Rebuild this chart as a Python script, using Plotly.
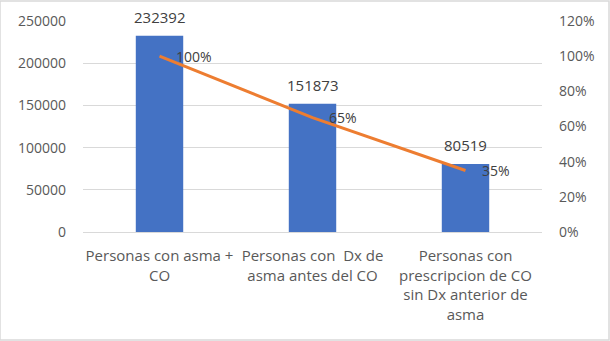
import plotly.graph_objects as go

# Data
categories = [
    "Personas con asma + CO",
    "Personas con  Dx de asma antes del CO",
    "Personas con prescripcion de CO sin Dx anterior de asma",
]
tick_labels = [
    "Personas con asma +<br>CO",
    "Personas con  Dx de<br>asma antes del CO",
    "Personas con<br>prescripcion de CO<br>sin Dx anterior de<br>asma",
]
counts = [232392, 151873, 80519]
percent = [100, 65, 35]

left_ticks = [0, 50000, 100000, 150000, 200000, 250000]
right_ticks = [0, 20, 40, 60, 80, 100, 120]

FONT = "Open Sans"
TXT = "#595959"
LBL = "#404040"
BAR = "#4472C4"
LINE = "#ED7D31"

fig = go.Figure()

fig.add_trace(go.Bar(
    x=categories, y=counts,
    marker=dict(color=BAR, line=dict(width=0)),
    width=0.31,
    hoverinfo="skip",
))

fig.add_trace(go.Scatter(
    x=categories, y=percent, yaxis="y2",
    mode="lines",
    line=dict(color=LINE, width=3),
    hoverinfo="skip",
))

# count labels above each bar
for c, v in zip(categories, counts):
    fig.add_annotation(
        x=c, y=v, xref="x", yref="y",
        text=str(v), showarrow=False,
        xanchor="center", yanchor="middle", yshift=19,
        font=dict(family=FONT, size=15, color=LBL),
    )

# percentage labels to the right of each line point
for c, p in zip(categories, percent):
    fig.add_annotation(
        x=c, y=p, xref="x", yref="y2",
        text=f"{p}%", showarrow=False,
        xanchor="left", yanchor="middle", xshift=14,
        font=dict(family=FONT, size=14, color=LBL),
    )

# light frame around the chart area
fig.add_shape(type="rect", xref="paper", yref="paper",
              x0=-83 / 459, x1=1 + 67 / 459, y0=-108 / 211, y1=1 + 20 / 211,
              line=dict(color="#D9D9D9", width=1.5))

fig.update_layout(
    width=610, height=341,
    margin=dict(l=83, r=68, t=21, b=109),
    paper_bgcolor="white", plot_bgcolor="white",
    showlegend=False,
    bargap=0.69,
    font=dict(family=FONT, size=14, color=TXT),
    xaxis=dict(
        tickmode="array", tickvals=categories, ticktext=tick_labels,
        showgrid=False, showline=True, linecolor="#D9D9D9", linewidth=1,
        ticks="", ticklabelstandoff=10,
        tickfont=dict(family=FONT, size=15, color=TXT),
    ),
    yaxis=dict(
        range=[0, 250000], tickmode="array", tickvals=left_ticks,
        ticktext=[str(v) for v in left_ticks],
        showgrid=True, gridcolor="#D9D9D9", gridwidth=1,
        zeroline=False, showline=False, ticks="",
        ticklabelstandoff=16,
        tickfont=dict(family=FONT, size=14, color=TXT),
    ),
    yaxis2=dict(
        range=[0, 120], overlaying="y", side="right",
        tickmode="array", tickvals=right_ticks,
        ticktext=[f"{v}%" for v in right_ticks],
        showgrid=False, zeroline=False, showline=False, ticks="",
        ticklabelstandoff=16,
        tickfont=dict(family=FONT, size=14, color=TXT),
    ),
)

fig.write_html("out.html")
